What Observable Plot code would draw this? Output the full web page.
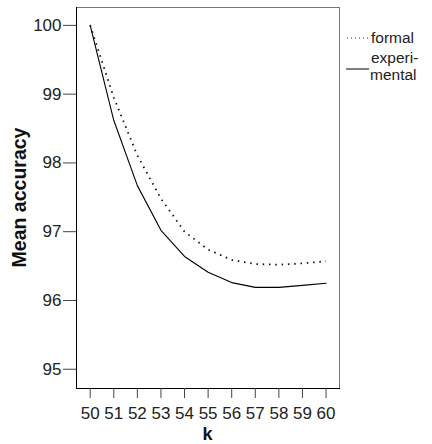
<!DOCTYPE html>
<html><head><meta charset="utf-8">
<script src="https://cdn.jsdelivr.net/npm/d3@7"></script>
<script src="https://cdn.jsdelivr.net/npm/@observablehq/plot@0.6"></script>
<style>
body{margin:0;background:#fff}
svg{font-family:"Liberation Sans",Arial,Helvetica,sans-serif}
</style>
</head><body><div id="chart"></div>
<script>
const kValues = [50, 51, 52, 53, 54, 55, 56, 57, 58, 59, 60];
const formal = [100, 98.95, 98.11, 97.48, 97.0, 96.74, 96.59, 96.53, 96.52, 96.54, 96.57];
const experimental = [100, 98.62, 97.67, 97.02, 96.64, 96.41, 96.26, 96.19, 96.19, 96.22, 96.25];
const yTicks = [95, 96, 97, 98, 99, 100];
const seriesLabels = [["formal"], ["experi-", "mental"]];
const xLabel = "k";
const yLabel = "Mean accuracy";

const xDomain = [49.42, 60.57];
const yDomain = [94.72, 100.26];

const W = 432, H = 444;
const mL = 76, mR = 93, mT = 7, mB = 56;

const formalData = kValues.map((k, i) => ({k, v: formal[i]}));
const expData = kValues.map((k, i) => ({k, v: experimental[i]}));

const plot = Plot.plot({
  width: W, height: H,
  marginLeft: mL, marginRight: mR, marginTop: mT, marginBottom: mB,
  style: {fontFamily: '"Liberation Sans", Arial, sans-serif', fontSize: "16px", color: "#222", background: "white", overflow: "visible"},
  x: {domain: xDomain},
  y: {domain: yDomain},
  marks: [
    Plot.frame({stroke: "#777", strokeWidth: 1}),
    Plot.frame({anchor: "left", stroke: "#000"}),
    Plot.frame({anchor: "bottom", stroke: "#000"}),
    Plot.axisX({ticks: kValues, tickSize: 10, tickPadding: 8, fontSize: 17, tickFormat: d => String(d), label: null, stroke: "#444"}),
    Plot.axisY({ticks: yTicks, tickSize: 13, tickPadding: 2, fontSize: 17, tickFormat: d => String(d), label: null, stroke: "#444"}),
    Plot.line(formalData, {x: "k", y: "v", stroke: "#111", strokeWidth: 1.8, strokeDasharray: "1.5,4.8", strokeLinecap: "butt"}),
    Plot.line(expData, {x: "k", y: "v", stroke: "#000", strokeWidth: 1.1})
  ]
});
document.getElementById("chart").appendChild(plot);

const svg = d3.select(plot);
// axis titles
svg.append("text")
  .attr("x", (mL + W - mR) / 2).attr("y", H - 4)
  .attr("text-anchor", "middle").attr("font-weight", "bold").attr("font-size", 18).attr("fill", "#111")
  .text(xLabel);
svg.append("text")
  .attr("transform", `translate(26,${(mT + H - mB) / 2}) rotate(-90)`)
  .attr("text-anchor", "middle").attr("font-weight", "bold").attr("font-size", 19.5).attr("fill", "#111")
  .text(yLabel);

// legend
const lg = svg.append("g").attr("font-size", 15.5).attr("fill", "#222").attr("text-anchor", "start");
const lx0 = W - mR + 8, lx1 = lx0 + 22, tx = lx1 + 2;
lg.append("line").attr("x1", lx0).attr("x2", lx1).attr("y1", 38).attr("y2", 38)
  .attr("stroke", "#333").attr("stroke-width", 1.2).attr("stroke-dasharray", "1,3");
lg.append("text").attr("x", tx).attr("y", 43).text(seriesLabels[0][0]);
lg.append("line").attr("x1", lx0 - 1).attr("x2", lx1).attr("y1", 69).attr("y2", 69)
  .attr("stroke", "#000").attr("stroke-width", 1);
lg.append("text").attr("x", tx).attr("y", 63).text(seriesLabels[1][0]);
lg.append("text").attr("x", tx - 1).attr("y", 80).text(seriesLabels[1][1]);
</script>
</body></html>
